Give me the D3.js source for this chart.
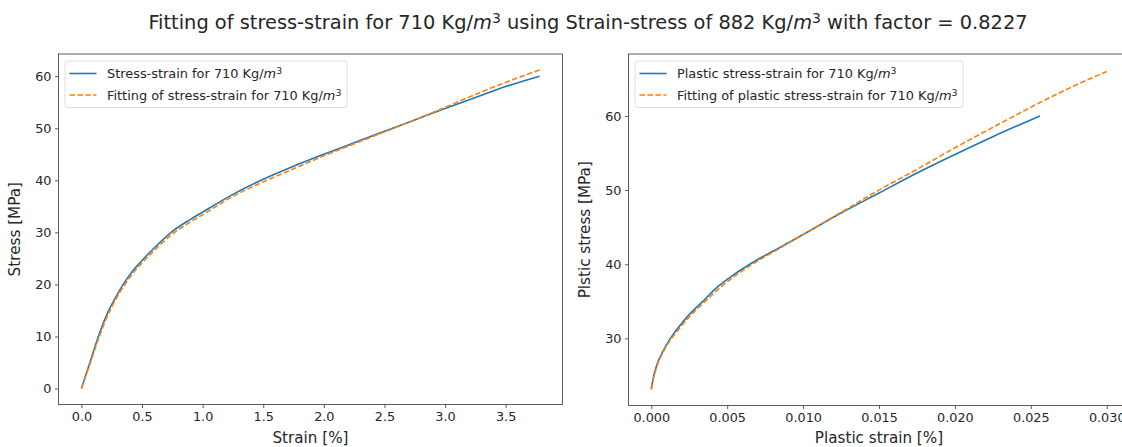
<!DOCTYPE html>
<html>
<head>
<meta charset="utf-8">
<script src="https://cdn.jsdelivr.net/npm/d3@7"></script>
<style>
  body { margin: 0; background: #fff; }
  svg { display: block; font-family: "DejaVu Sans", sans-serif; }
</style>
</head>
<body>
<svg id="chart" width="1122" height="447"></svg>
<script>
// Left panel: stress-strain, strain [%] vs stress [MPa]
var strainMeasured = [0, 0.07, 0.14, 0.21, 0.28, 0.35, 0.42, 0.5, 0.6, 0.75, 0.9, 1.0, 1.25, 1.5, 1.75, 2.0, 2.25, 2.5, 2.75, 3.0, 3.25, 3.5, 3.78];
var stressMeasured = [0, 5, 10, 14.2, 17.4, 20.2, 22.5, 24.6, 27, 30.2, 32.5, 33.9, 37.3, 40.2, 42.7, 45, 47.2, 49.4, 51.6, 53.8, 55.9, 58.0, 60];
var stressFitted   = [0, 4.7, 9.5, 13.7, 17, 19.7, 22, 24.1, 26.5, 29.7, 32, 33.4, 36.9, 39.7, 42.2, 44.7, 47, 49.3, 51.6, 54, 56.5, 58.8, 61.2];

// Right panel: plastic stress-strain
var plasticStrain = [0, 0.0002, 0.0004, 0.0008, 0.0012, 0.0018, 0.0025, 0.0034, 0.0044, 0.0053, 0.0069, 0.0085, 0.010, 0.0125, 0.015, 0.0176, 0.020, 0.0225, 0.0256];
var plasticStress = [23.2, 25.3, 26.6, 28.4, 29.8, 31.5, 33.2, 35.0, 37.0, 38.4, 40.5, 42.3, 44.0, 46.9, 49.6, 52.4, 54.8, 57.2, 60.0];
var fitStrain = [0, 0.0002, 0.0004, 0.0008, 0.0012, 0.0018, 0.0025, 0.0034, 0.0044, 0.0055, 0.0069, 0.0085, 0.010, 0.0125, 0.015, 0.0175, 0.020, 0.023, 0.0256, 0.0278, 0.030];
var fitStress  = [23.1, 25.0, 26.4, 28.2, 29.6, 31.2, 32.9, 34.7, 36.6, 38.4, 40.3, 42.2, 44.0, 47.0, 50.0, 52.8, 55.7, 59.0, 61.8, 64.0, 66.0];

// Tick labels
var leftXTicks  = [0, 0.5, 1.0, 1.5, 2.0, 2.5, 3.0, 3.5];
var leftYTicks  = [0, 10, 20, 30, 40, 50, 60];
var rightXTicks = [0, 0.005, 0.010, 0.015, 0.020, 0.025, 0.030];
var rightYTicks = [30, 40, 50, 60];

var blue = "#1f77b4", orange = "#ff7f0e";

var svg = d3.select("#chart");

// Zip two arrays into points
var zip = function(xs, ys) { return xs.map(function(x, i) { return [x, ys[i]]; }); };

// Append " Kg/m^3" with an italic m and superscript 3
var unitText = function(sel, before) {
  sel.append("tspan").text(before + " Kg/");
  sel.append("tspan").attr("font-style", "italic").text("m");
  sel.append("tspan").attr("dy", "-0.4em").attr("font-size", "0.72em").text("3");
};

// Title
var title = svg.append("text")
  .attr("x", 588).attr("y", 29)
  .attr("text-anchor", "middle")
  .attr("font-size", 19.4)
  .attr("fill", "#262626");
unitText(title, "Fitting of stress-strain for 710");
title.append("tspan").attr("dy", "0.29em").text(" using Strain-stress of 882 Kg/");
title.append("tspan").attr("font-style", "italic").text("m");
title.append("tspan").attr("dy", "-0.4em").attr("font-size", "0.72em").text("3");
title.append("tspan").attr("dy", "0.29em").text(" with factor = 0.8227");

// Draw one panel
var panel = function(opt) {
  var x = d3.scaleLinear().domain(opt.xDomain).range([opt.left, opt.right]);
  var y = d3.scaleLinear().domain(opt.yDomain).range([opt.bottom, opt.top]);
  var g = svg.append("g");

  var clipId = "clip" + opt.id;
  g.append("clipPath").attr("id", clipId).append("rect")
    .attr("x", opt.left).attr("y", opt.top)
    .attr("width", opt.right - opt.left).attr("height", opt.bottom - opt.top);

  var line = d3.line().curve(d3.curveMonotoneX)
    .x(function(d) { return x(d[0]); }).y(function(d) { return y(d[1]); });

  // Lines
  g.append("path").datum(opt.series1)
    .attr("d", line).attr("fill", "none").attr("stroke", blue)
    .attr("stroke-width", 1.6).attr("clip-path", "url(#" + clipId + ")");
  g.append("path").datum(opt.series2)
    .attr("d", line).attr("fill", "none").attr("stroke", orange)
    .attr("stroke-width", 1.6).attr("stroke-dasharray", "5.55,2.4")
    .attr("clip-path", "url(#" + clipId + ")");

  // Axes
  var xAxis = g.append("g").attr("transform", "translate(0," + opt.bottom + ")")
    .call(d3.axisBottom(x).tickValues(opt.xTicks).tickFormat(d3.format(opt.xFmt)).tickSize(3.5).tickPadding(3.5));
  var yAxis = g.append("g").attr("transform", "translate(" + opt.left + ",0)")
    .call(d3.axisLeft(y).tickValues(opt.yTicks).tickFormat(d3.format("d")).tickSize(3.5).tickPadding(3.5));
  [xAxis, yAxis].forEach(function(a) {
    a.select(".domain").remove();
    a.selectAll(".tick line").attr("stroke", "#333").attr("stroke-width", 0.8);
    a.selectAll(".tick text").attr("font-size", 12.8).attr("fill", "#262626")
      .attr("font-family", "DejaVu Sans");
  });

  // Frame
  g.append("rect")
    .attr("x", opt.left).attr("y", opt.top)
    .attr("width", opt.right - opt.left).attr("height", opt.bottom - opt.top)
    .attr("fill", "none").attr("stroke", "#333").attr("stroke-width", 0.8);

  // Axis labels
  g.append("text")
    .attr("x", (opt.left + opt.right) / 2).attr("y", 443)
    .attr("text-anchor", "middle").attr("font-size", 15.2).attr("fill", "#262626")
    .text(opt.xLabel);
  g.append("text")
    .attr("transform", "translate(" + opt.yLabelX + "," + (opt.top + opt.bottom) / 2 + ") rotate(-90)")
    .attr("text-anchor", "middle").attr("font-size", 15.2).attr("fill", "#262626")
    .text(opt.yLabel);

  // Legend
  var lg = g.append("g").attr("transform", "translate(" + (opt.left + 6.5) + "," + (opt.top + 7) + ")");
  lg.append("rect").attr("width", opt.legendW).attr("height", 46.5).attr("rx", 3)
    .attr("fill", "#fff").attr("fill-opacity", 0.8).attr("stroke", "#d6d6d6").attr("stroke-width", 0.8);
  opt.legend.forEach(function(name, i) {
    var yy = 12.5 + i * 21.5;
    lg.append("line").attr("x1", 4.5).attr("x2", 31.5).attr("y1", yy).attr("y2", yy)
      .attr("stroke", i ? orange : blue).attr("stroke-width", 1.6)
      .attr("stroke-dasharray", i ? "5.55,2.4" : null);
    var t = lg.append("text").attr("x", 42).attr("y", yy + 4.5)
      .attr("font-size", 12.9).attr("fill", "#262626");
    unitText(t, name);
  });
};

panel({
  id: 1, left: 58.5, right: 562.5, top: 54, bottom: 404.5,
  xDomain: [-0.189, 3.969], yDomain: [-3.06, 64.26],
  series1: zip(strainMeasured, stressMeasured), series2: zip(strainMeasured, stressFitted),
  xTicks: leftXTicks, yTicks: leftYTicks, xFmt: ".1f",
  xLabel: "Strain [%]", yLabel: "Stress [MPa]", yLabelX: 20,
  legend: ["Stress-strain for 710", "Fitting of stress-strain for 710"], legendW: 282
});

panel({
  id: 2, left: 628.5, right: 1129.5, top: 54, bottom: 405.5,
  xDomain: [-0.0015, 0.0315], yDomain: [20.95, 68.35],
  series1: zip(plasticStrain, plasticStress), series2: zip(fitStrain, fitStress),
  xTicks: rightXTicks, yTicks: rightYTicks, xFmt: ".3f",
  xLabel: "Plastic strain [%]", yLabel: "Plstic stress [MPa]", yLabelX: 590,
  legend: ["Plastic stress-strain for 710", "Fitting of plastic stress-strain for 710"], legendW: 328
});
</script>
</body>
</html>
